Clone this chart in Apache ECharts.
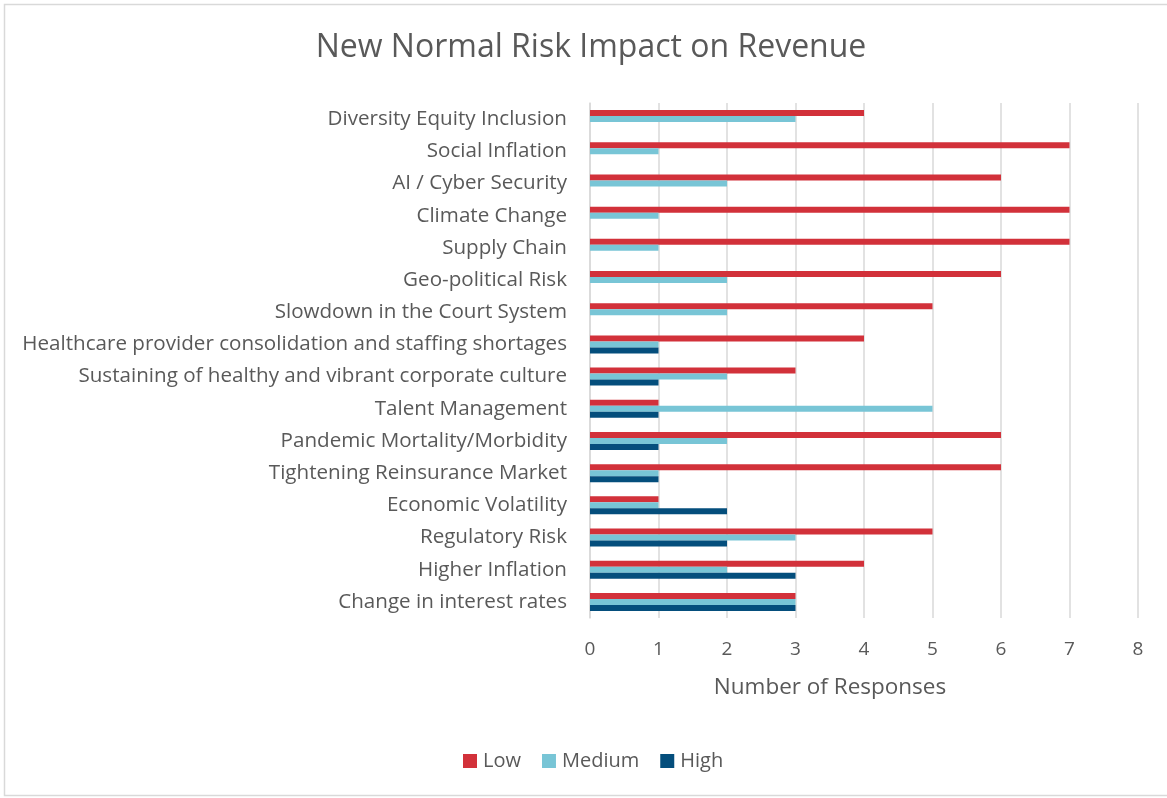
<!DOCTYPE html>
<html><head><meta charset="utf-8">
<script src="https://cdn.jsdelivr.net/npm/echarts@6/dist/echarts.min.js"></script>
<style>html,body{margin:0;padding:0;background:#fff}#c{width:1167px;height:798px}</style>
</head><body><div id="c"></div>
<script>
const categories = [
  "Change in interest rates",
  "Higher Inflation",
  "Regulatory Risk",
  "Economic Volatility",
  "Tightening Reinsurance Market",
  "Pandemic Mortality/Morbidity",
  "Talent Management",
  "Sustaining of healthy and vibrant corporate culture",
  "Healthcare provider consolidation and staffing shortages",
  "Slowdown in the Court System",
  "Geo-political Risk",
  "Supply Chain",
  "Climate Change",
  "AI / Cyber Security",
  "Social Inflation",
  "Diversity Equity Inclusion"
];
const lowValues    = [3, 4, 5, 1, 6, 6, 1, 3, 4, 5, 6, 7, 7, 6, 7, 4];
const mediumValues = [3, 2, 3, 1, 1, 2, 5, 2, 1, 2, 2, 1, 1, 2, 1, 3];
const highValues   = [3, 3, 2, 2, 1, 1, 1, 1, 1, 0, 0, 0, 0, 0, 0, 0];
const seriesNames = ["Low", "Medium", "High"];
const xTicks = [0, 1, 2, 3, 4, 5, 6, 7, 8];

const FONT = "'Open Sans', 'Segoe UI', sans-serif";
const TXT = "#595959";
const chart = echarts.init(document.getElementById('c'), null, {renderer: 'canvas'});
chart.setOption({
  backgroundColor: '#fff',
  animation: false,
  graphic: [{type: 'rect', shape: {x: 4.5, y: 4.5, width: 1170, height: 791}, style: {fill: 'none', stroke: '#d9d9d9', lineWidth: 1.5}}],
  title: {
    text: 'New Normal Risk Impact on Revenue',
    left: 586, top: 27, textAlign: 'center',
    textStyle: {fontFamily: FONT, fontWeight: 'normal', fontSize: 32, color: TXT}
  },
  legend: {
    data: seriesNames,
    bottom: 22, left: 458,
    itemWidth: 14, itemHeight: 14, itemGap: 21,
    icon: 'rect',
    textStyle: {fontFamily: FONT, fontWeight: 'normal', fontSize: 20, color: TXT, padding: [0, 0, 0, 1]}
  },
  grid: {left: 590, right: 29, top: 103, bottom: 180, containLabel: false},
  xAxis: {
    type: 'value', min: xTicks[0], max: xTicks[xTicks.length - 1], interval: 1,
    name: 'Number of Responses', nameLocation: 'middle', nameGap: 58,
    nameTextStyle: {fontFamily: FONT, fontWeight: 'normal', fontSize: 22.5, color: TXT, padding: [0, 68, 0, 0]},
    axisLine: {show: false}, axisTick: {show: false},
    axisLabel: {fontFamily: FONT, fontWeight: 'normal', fontSize: 19, color: TXT, margin: 22},
    splitLine: {lineStyle: {color: '#d9d9d9', width: 1.5}}
  },
  yAxis: {
    type: 'category', data: categories,
    axisLine: {show: true, lineStyle: {color: '#d9d9d9', width: 1.5}},
    axisTick: {show: false},
    axisLabel: {fontFamily: FONT, fontWeight: 'normal', fontSize: 20.6, color: TXT, margin: 23}
  },
  series: [
    {name: 'Low', type: 'bar', data: lowValues, barWidth: 6, barGap: '0%', itemStyle: {color: '#D2313A'}},
    {name: 'Medium', type: 'bar', data: mediumValues, barWidth: 6, barGap: '0%', itemStyle: {color: '#78C5D6'}},
    {name: 'High', type: 'bar', data: highValues, barWidth: 6, barGap: '0%', itemStyle: {color: '#044E7C'}}
  ]
});
</script></body></html>
